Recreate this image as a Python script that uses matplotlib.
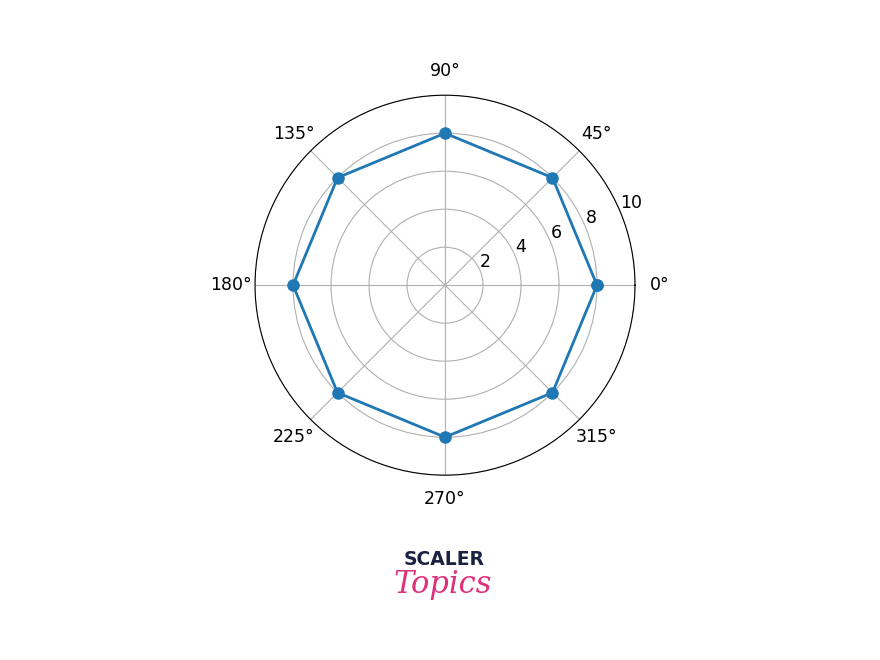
import numpy as np
import matplotlib.pyplot as plt

# angles in degrees and radii of the 8 points
angles_deg = [0, 45, 90, 135, 180, 225, 270, 315]
radii = [8, 8, 8, 8, 8, 8, 8, 8]

theta = np.deg2rad(angles_deg + [angles_deg[0]])
r = radii + [radii[0]]

fig = plt.figure(figsize=(8.8, 6.6), dpi=100)
ax = fig.add_axes([0.2898, 0.280, 0.4318, 0.5758], projection='polar')
ax.plot(theta, r, marker='o', color='#1f77b4', linewidth=2, markersize=8)
ax.set_rmax(10)
ax.set_rticks([2, 4, 6, 8, 10])
ax.set_rlabel_position(22.5)
ax.tick_params(labelsize=12.5)
ax.tick_params(axis='x', pad=7)
ax.grid(True)

# watermark
fig.text(0.5045, 0.152, 'SCALER', ha='center', va='center', fontsize=13.5,
         fontweight='bold', color='#1b2140', family='DejaVu Sans')
fig.text(0.503, 0.115, 'Topics', ha='center', va='center', fontsize=22,
         style='italic', color='#e0307a', family='DejaVu Serif')

fig.savefig('out.png', dpi=100)
